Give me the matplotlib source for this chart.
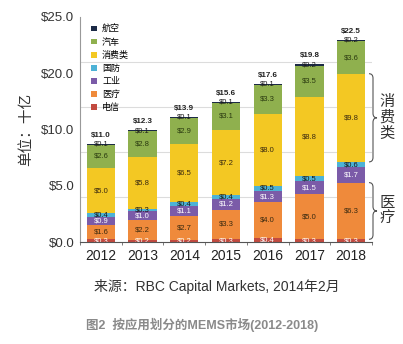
import matplotlib
matplotlib.use("Agg")
import matplotlib.pyplot as plt
import numpy as np
from matplotlib.path import Path
from matplotlib.patches import PathPatch
import matplotlib.transforms as mtransforms

plt.rcParams['font.family'] = ['Liberation Sans', 'Noto Sans CJK SC', 'DejaVu Sans']
plt.rcParams['text.parse_math'] = False

years = ["2012", "2013", "2014", "2015", "2016", "2017", "2018"]
totals = [11.0, 12.3, 13.9, 15.6, 17.6, 19.8, 22.5]
# stacked from bottom to top
telecom    = [0.3, 0.2, 0.2, 0.3, 0.4, 0.3, 0.3]
medical    = [1.6, 2.2, 2.7, 3.3, 4.0, 5.0, 6.3]
industrial = [0.9, 1.0, 1.1, 1.2, 1.3, 1.5, 1.7]
defense    = [0.4, 0.3, 0.4, 0.4, 0.5, 0.5, 0.6]
consumer   = [5.0, 5.8, 6.5, 7.2, 8.0, 8.8, 9.8]
auto       = [2.6, 2.8, 2.9, 3.1, 3.3, 3.5, 3.6]
aero       = [0.1, 0.1, 0.1, 0.1, 0.1, 0.2, 0.2]

series_names = ["电信", "医疗", "工业", "国防", "消费类", "汽车", "航空"]
series_vals = [telecom, medical, industrial, defense, consumer, auto, aero]
colors = ["#c24a3f", "#ef8a3b", "#7b5ba8", "#4db2d6", "#f3c823", "#8fb04e", "#1c2a46"]
label_colors = ["white", "#3a2a10", "white", "#1a1a1a", "#3a2a10", "#2a3a10", "#1a1a1a"]

grid_vals = [0, 5, 10, 15, 20, 25]
# the source image's tick labels sit at evenly spaced (shifted) positions
ytick_pos = [0, 6.25, 12.5, 18.75, 25]
ytick_labels = ["$0.0", "$5.0", "$10.0", "$20.0", "$25.0"]

fig = plt.figure(figsize=(4.03, 3.44), dpi=100)
ax = fig.add_axes([80/403, 1-242/344, (372-80)/403, (242-17)/344])

x = np.arange(len(years))
w = 0.68
bottom = np.zeros(len(years))
handles = []
for name, vals, c, lc in zip(series_names, series_vals, colors, label_colors):
    vals = np.array(vals)
    b = ax.bar(x, vals, w, bottom=bottom, color=c, label=name, zorder=3)
    handles.append(b)
    for xi, v, bt in zip(x, vals, bottom):
        ax.text(xi, bt + v/2, f"${v:.1f}", ha="center", va="center",
                fontsize=5.5, color=lc, zorder=5)
    bottom = bottom + vals

for xi, t, bt in zip(x, totals, bottom):
    ax.text(xi, bt + 0.55, f"${t:.1f}", ha="center", va="bottom",
            fontsize=5.8, fontweight="bold", color="#222222", zorder=5)

ax.set_xlim(-0.44, 6.4)
ax.set_ylim(0, 25)
ax.set_yticks(ytick_pos)
ax.set_yticklabels(ytick_labels, fontsize=9.5, color="#333333")
ax.set_yticks(grid_vals, minor=True)
ax.set_xticks(x)
ax.set_xticklabels(years, fontsize=10, color="#222222")
ax.set_xticks(np.arange(-0.5, 6.6, 1), minor=True)
ax.tick_params(axis="y", which="both", length=0, pad=4)
ax.tick_params(axis="x", which="major", length=0, pad=5)
ax.tick_params(axis="x", which="minor", length=2.5, color="#666666")
ax.yaxis.grid(True, which="minor", color="#dcdcdc", linewidth=0.8, zorder=0)
ax.yaxis.grid(False, which="major")
ax.set_axisbelow(True)
for s in ["top", "right"]:
    ax.spines[s].set_visible(False)
ax.spines["left"].set_color("#999999")
ax.spines["bottom"].set_color("#555555")
ax.spines["bottom"].set_zorder(6)

ax.set_ylabel("单位：十亿", fontsize=10.5, color="#333333", labelpad=6)

# legend (top to bottom: 航空 ... 电信)
leg = ax.legend(handles[::-1], series_names[::-1], loc="upper left",
                bbox_to_anchor=(0.02, 0.99), frameon=False, fontsize=6.5,
                handlelength=0.6, handleheight=0.6, handletextpad=0.6,
                labelspacing=0.45, borderaxespad=0.2)

# braces
trans = mtransforms.blended_transform_factory(fig.transFigure, ax.transData)

def brace(y0, y1, xl=369/403, xm=373/403, xr=377/403, r=0.5):
    ym = (y0 + y1) / 2
    verts = [(xl, y1), (xm, y1), (xm, y1 - r),
             (xm, ym + r),
             (xm, ym), (xr, ym),
             (xm, ym), (xm, ym - r),
             (xm, y0 + r),
             (xm, y0), (xl, y0)]
    codes = [Path.MOVETO, Path.CURVE3, Path.CURVE3,
             Path.LINETO,
             Path.CURVE3, Path.CURVE3,
             Path.CURVE3, Path.CURVE3,
             Path.LINETO,
             Path.CURVE3, Path.CURVE3]
    p = PathPatch(Path(verts, codes), transform=trans, fill=False,
                  edgecolor="#555555", linewidth=0.8, clip_on=False)
    fig.add_artist(p)

cons_bottom = telecom[-1] + medical[-1] + industrial[-1] + defense[-1]
brace(cons_bottom, cons_bottom + consumer[-1])
brace(telecom[-1], telecom[-1] + medical[-1])

fig.text(387/403, ax.transData.transform((0, cons_bottom + consumer[-1]/2))[1]/344,
         "消\n费\n类", ha="center", va="center", fontsize=11, color="#333333",
         linespacing=1.15)
fig.text(387/403, ax.transData.transform((0, telecom[-1] + medical[-1]/2))[1]/344,
         "医\n疗", ha="center", va="center", fontsize=11, color="#333333",
         linespacing=1.15)

fig.text(0.538, 1-287/344, "来源：RBC Capital Markets, 2014年2月", ha="center",
         va="center", fontsize=10, color="#333333")
fig.text(0.502, 1-325/344, "图2  按应用划分的MEMS市场(2012-2018)", ha="center",
         va="center", fontsize=9, color="#8a8a8a", fontweight="bold")

fig.savefig("out.png", dpi=100, facecolor="white")
